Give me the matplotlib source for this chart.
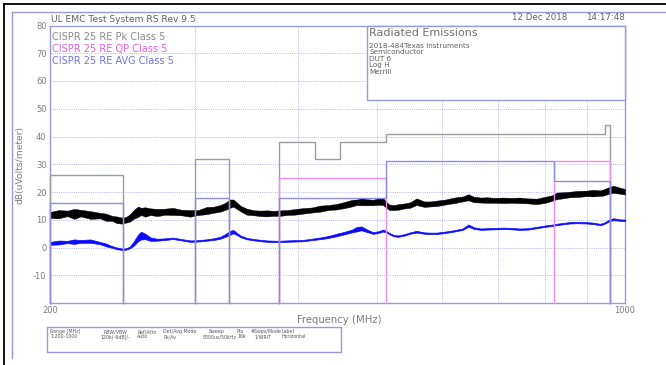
import numpy as np
import matplotlib
matplotlib.use('Agg')
import matplotlib.pyplot as plt
from matplotlib.patches import Rectangle
from matplotlib.lines import Line2D

# ---------------- data ----------------
freq_mhz = [200, 205, 210, 214, 218, 224, 230, 234, 238, 241,
            244.5, 247, 250, 253, 256, 258, 261, 265, 270, 276,
            282, 289, 296, 303, 310, 316, 322, 327, 331, 334,
            337, 341, 347, 354, 361, 367, 374, 381, 388, 396,
            406, 416, 426, 436, 446, 456, 466, 472, 478, 486,
            494, 502, 508, 512, 517, 523, 530, 540, 548, 558,
            570, 580, 590, 605, 620, 635, 645, 655, 668, 679,
            695, 711, 728, 745, 762, 781, 800, 815, 826, 840,
            857, 875, 898, 915, 932, 941, 955, 968, 985, 1000]

pk_mid = [11.7, 12.0, 12.3, 12.1, 12.4, 11.7, 11.5, 10.9, 10.5, 10.0,
          9.7, 9.9, 10.6, 12.0, 12.9, 13.0, 12.8, 12.9, 12.6, 12.9,
          13.0, 12.6, 12.3, 12.6, 13.3, 13.6, 14.1, 14.9, 15.8, 16.0,
          15.2, 14.0, 12.9, 12.5, 12.3, 12.3, 12.3, 12.4, 12.6, 12.8,
          13.2, 13.5, 14.0, 14.4, 14.7, 15.3, 16.0, 16.3, 16.5, 16.3,
          16.2, 16.6, 16.6, 15.5, 14.5, 14.4, 14.6, 15.0, 15.3, 16.5,
          15.6, 15.7, 15.9, 16.4, 17.0, 17.5, 18.1, 17.3, 17.1, 17.1,
          17.0, 17.0, 17.0, 17.0, 16.8, 16.6, 17.2, 17.8, 18.6, 18.8,
          19.1, 19.3, 19.5, 19.6, 19.6, 19.8, 20.5, 21.0, 20.5, 20.1]

pk_spread = [1.1, 1.5, 1.0, 1.8, 1.2, 1.4, 1.0, 1.3, 0.9, 1.2,
             1.1, 1.0, 1.3, 1.6, 1.9, 1.3, 1.7, 1.2, 1.3, 1.1,
             1.3, 1.0, 1.2, 0.9, 1.3, 1.1, 1.2, 1.3, 1.5, 1.3,
             1.2, 1.0, 1.1, 0.9, 1.0, 1.1, 0.9, 1.0, 0.9, 1.0,
             1.0, 0.9, 1.1, 0.9, 1.0, 1.1, 1.2, 1.0, 1.3, 1.1,
             1.0, 1.2, 1.3, 1.1, 1.0, 0.9, 1.0, 0.9, 1.0, 1.2,
             1.0, 0.9, 1.0, 0.9, 1.0, 0.9, 1.1, 1.0, 0.9, 1.0,
             0.9, 1.0, 0.9, 1.0, 0.9, 1.0, 1.1, 1.0, 1.2, 1.1,
             1.0, 1.1, 1.0, 1.2, 1.0, 1.1, 1.2, 1.3, 1.1, 1.0]

av_mid = [1.5, 1.8, 2.0, 2.1, 2.2, 2.3, 1.6, 0.9, 0.2, -0.3,
          -0.6, -0.6, 0.0, 1.5, 3.5, 4.3, 4.0, 3.0, 2.8, 3.0,
          3.3, 2.8, 2.3, 2.4, 2.7, 3.0, 3.5, 4.4, 5.3, 5.7,
          5.0, 4.0, 3.2, 2.8, 2.5, 2.3, 2.2, 2.2, 2.3, 2.4,
          2.5, 2.9, 3.3, 3.8, 4.5, 5.2, 6.0, 6.6, 6.9, 6.0,
          5.2, 5.6, 6.1, 5.8, 5.0, 4.3, 4.1, 4.6, 5.2, 5.7,
          5.2, 5.1, 5.1, 5.5, 6.0, 6.6, 7.9, 7.0, 6.6, 6.7,
          6.8, 6.9, 6.8, 6.6, 6.7, 7.2, 7.7, 8.0, 8.3, 8.6,
          8.9, 9.0, 8.9, 8.7, 8.3, 8.6, 9.6, 10.2, 9.9, 9.8]

av_spread = [0.5, 0.7, 0.4, 0.8, 0.5, 0.6, 0.4, 0.5, 0.3, 0.3,
             0.25, 0.25, 0.3, 0.8, 1.2, 1.4, 1.0, 0.6, 0.35, 0.3,
             0.25, 0.25, 0.25, 0.25, 0.25, 0.3, 0.35, 0.5, 0.7, 0.6,
             0.4, 0.3, 0.25, 0.25, 0.25, 0.25, 0.25, 0.25, 0.25, 0.25,
             0.25, 0.25, 0.3, 0.35, 0.45, 0.45, 0.5, 0.8, 0.7, 0.45,
             0.3, 0.3, 0.35, 0.3, 0.25, 0.25, 0.25, 0.25, 0.25, 0.3,
             0.25, 0.25, 0.25, 0.25, 0.25, 0.25, 0.4, 0.3, 0.25, 0.25,
             0.25, 0.25, 0.25, 0.25, 0.25, 0.25, 0.25, 0.25, 0.25, 0.25,
             0.25, 0.25, 0.25, 0.25, 0.25, 0.25, 0.3, 0.35, 0.25, 0.25]

# CISPR 25 Class 5 limit segments (start MHz, stop MHz, level dBuV/m)
pk_start = [200, 300, 380, 420, 450, 512, 945]
pk_stop = [245, 330, 420, 450, 512, 945, 960]
pk_level = [26, 32, 38, 32, 38, 41, 44]

qp_start = [380, 820]
qp_stop = [512, 960]
qp_level = [25, 31]

av_start = [200, 300, 380, 512, 820]
av_stop = [245, 330, 512, 820, 960]
av_level = [16, 18, 18, 31, 24]

y_ticks = [-10, 0, 10, 20, 30, 40, 50, 60, 70, 80]
x_grid = [300, 400, 500, 600, 700, 800, 900]
x_ticks = [200, 1000]
x_ticklabels = ['200', '1000']

legend_texts = ['CISPR 25 RE Pk Class 5', 'CISPR 25 RE QP Class 5',
                'CISPR 25 RE AVG Class 5']
info_title = 'Radiated Emissions'
info_lines = ['2018-484Texas Instruments', 'Semiconductor', 'DUT 6',
              'Log H', 'Merrill']
table_head = ['Range (MHz)', 'RBW/VBW', 'Ref/Attn', 'Det/Avg Mode',
              'Sweep', 'Pts', '#Swps/Mode', 'Label']
table_row = ['1:200-1000', '120k(-6dB)/-', 'Auto', 'Pk/Av',
             '5000us/50kHz', '16k', '1/WRIT', 'Horizontal']

# ---------------- styling ----------------
W, H = 666, 365
FRAME = '#9898e0'
GRID = '#b8b8ec'
PK_C = '#9c9c9c'
QP_C = '#f08cf0'
AV_C = '#8c8ce6'
TXT = '#7c7c7c'
FONT = 'DejaVu Sans'
NARROW = ['Liberation Sans Narrow', 'DejaVu Sans']

fig = plt.figure(figsize=(W / 100, H / 100), dpi=100)
fig.patch.set_facecolor('white')


def fx(x):
    return x / W


def fy(y):
    return 1 - y / H


AX_L, AX_R, AX_T, AX_B = 50, 625, 25.5, 303
ax = fig.add_axes([fx(AX_L), fy(AX_B), (AX_R - AX_L) / W, (AX_B - AX_T) / H])
ax.set_xscale('log')
ax.set_xlim(200, 1000)
ax.set_ylim(-20, 80)

for sp in ax.spines.values():
    sp.set_color(FRAME)
    sp.set_linewidth(1.0)

ax.set_yticks(y_ticks)
ax.set_yticklabels([str(v) for v in y_ticks])
ax.set_xticks(x_ticks)
ax.set_xticklabels(x_ticklabels)
ax.set_xticks(x_grid, minor=True)
ax.xaxis.set_minor_formatter(matplotlib.ticker.NullFormatter())
ax.tick_params(axis='both', which='both', length=0, labelsize=6,
               labelcolor=TXT)
ax.tick_params(axis='y', pad=2.5)
ax.tick_params(axis='x', pad=2)
for lab in ax.get_xticklabels() + ax.get_yticklabels():
    lab.set_family(FONT)

ax.yaxis.grid(True, color=GRID, ls=(0, (1, 1.2)), lw=0.7)
ax.xaxis.grid(True, which='minor', color=GRID, ls=(0, (1, 1.2)), lw=0.7)
ax.xaxis.grid(False, which='major')
ax.set_axisbelow(True)


def limit_path(starts, stops, levels, floor=-20):
    xs, ys = [], []
    prev = None
    for s, e, l in zip(starts, stops, levels):
        if prev is None or s != prev:
            if prev is not None:
                xs += [prev, np.nan]
                ys += [floor, np.nan]
            xs.append(s)
            ys.append(floor)
        xs += [s, e]
        ys += [l, l]
        prev = e
    xs.append(prev)
    ys.append(floor)
    return xs, ys


f = np.array(freq_mhz)
pm, ps = np.array(pk_mid), np.array(pk_spread)
am, asd = np.array(av_mid), np.array(av_spread)

ax.fill_between(f, am - asd, am + asd, color='#0a0aff', lw=0.5, zorder=3)
ax.fill_between(f, pm - ps, pm + ps, color='black', lw=0.3, zorder=3)

for (st, sp_, lv, c) in [(pk_start, pk_stop, pk_level, PK_C),
                         (qp_start, qp_stop, qp_level, QP_C),
                         (av_start, av_stop, av_level, AV_C)]:
    xs, ys = limit_path(st, sp_, lv)
    ax.plot(xs, ys, color=c, lw=1.0, zorder=4, clip_on=False,
            solid_joinstyle='miter')

# ---------------- frames ----------------
fig.add_artist(Line2D([fx(3.5), fx(3.5)], [fy(3.5), fy(365)], color='black',
                      lw=1.3, transform=fig.transFigure))
fig.add_artist(Line2D([fx(3.5), fx(666)], [fy(3.5), fy(3.5)], color='black',
                      lw=1.3, transform=fig.transFigure))
fig.add_artist(Line2D([fx(12), fx(12)], [fy(12), fy(358)], color=FRAME,
                      lw=1.0, transform=fig.transFigure))
fig.add_artist(Line2D([fx(12), fx(666)], [fy(12), fy(12)], color=FRAME,
                      lw=1.0, transform=fig.transFigure))

# ---------------- texts ----------------
fig.text(fx(51), fy(19), 'UL EMC Test System RS Rev 9.5', fontsize=6.6,
         color='#606060', va='center', ha='left', family=FONT)
fig.text(fx(567), fy(18), '12 Dec 2018', fontsize=6.2, color='#606060',
         va='center', ha='right', family=FONT)
fig.text(fx(625), fy(18), '14:17:48', fontsize=6.2, color='#606060',
         va='center', ha='right', family=FONT)

for t, yy, c in zip(legend_texts, [37.5, 49.3, 61.5],
                    ['#8a8a8a', '#e060e0', '#7474d8']):
    fig.text(fx(52), fy(yy), t, fontsize=7, color=c, va='center',
             ha='left', family=FONT, zorder=6)

fig.add_artist(Rectangle((fx(367), fy(100)), (625 - 367) / W, (100 - 25.5) / H,
                         transform=fig.transFigure, fc='white', ec=FRAME,
                         lw=1.0, zorder=5))
fig.text(fx(369), fy(33.5), info_title, fontsize=8, color='#707070',
         va='center', ha='left', family=FONT, zorder=6)
fig.text(fx(369), fy(42.5), '\n'.join(info_lines), fontsize=5.2,
         color='#606060', va='top', ha='left', family=FONT, zorder=6,
         linespacing=1.12)

fig.text(fx(20), fy(165), 'dB(uVolts/meter)', fontsize=6.6, color=TXT,
         rotation=90, va='center', ha='center', family=FONT)
fig.text(fx(339), fy(320), 'Frequency (MHz)', fontsize=7.3, color=TXT,
         va='center', ha='center', family=FONT)

fig.add_artist(Rectangle((fx(47), fy(352)), (341 - 47) / W, (352 - 327) / H,
                         transform=fig.transFigure, fc='none', ec=FRAME,
                         lw=1.0, zorder=5))
head_x = [50, 103, 137, 163, 209, 237, 251, 282]
row_x = [50, 100, 137, 163, 203, 237, 254, 282]
for t, xx in zip(table_head, head_x):
    fig.text(fx(xx), fy(331.5), t, fontsize=3.4, color='#555555',
             va='center', ha='left', family=NARROW)
for t, xx in zip(table_row, row_x):
    fig.text(fx(xx), fy(337), t, fontsize=3.4, color='#555555',
             va='center', ha='left', family=NARROW)

fig.savefig('out.png', dpi=100)
